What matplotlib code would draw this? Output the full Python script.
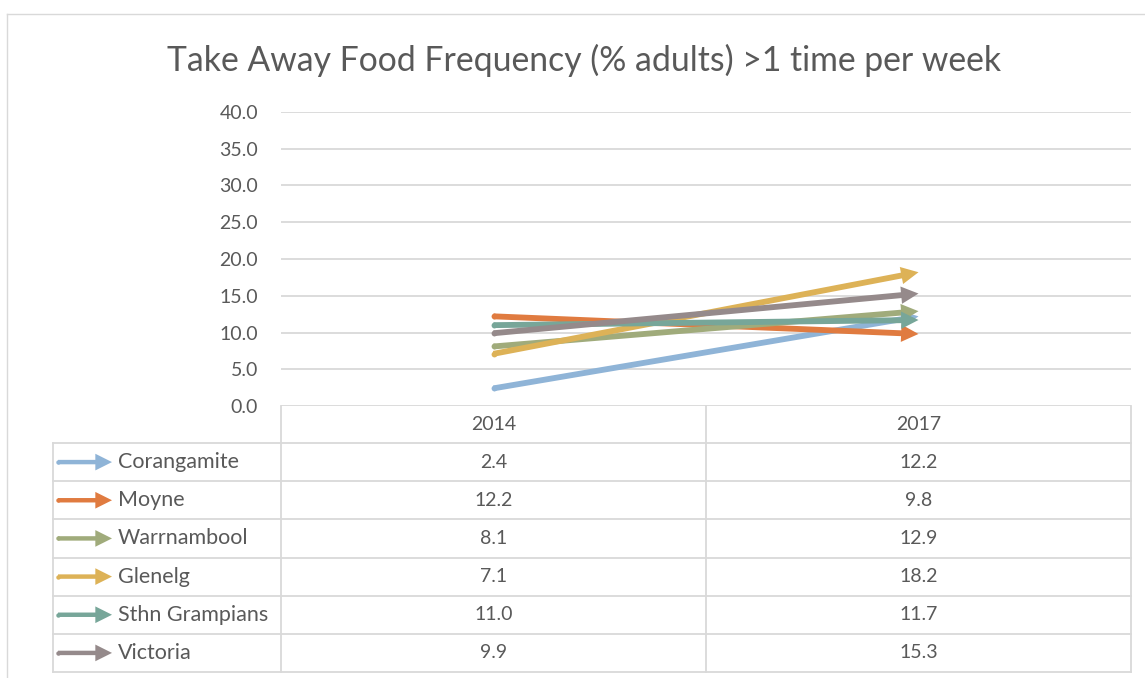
import matplotlib
matplotlib.use("Agg")
import matplotlib.pyplot as plt

plt.rcParams['font.family'] = ['Lato', 'DejaVu Sans']

# données : % d'adultes mangeant des plats à emporter plus d'une fois par semaine
annees = ["2014", "2017"]
regions = ["Corangamite", "Moyne", "Warrnambool", "Glenelg", "Sthn Grampians", "Victoria"]
valeurs_2014 = [2.4, 12.2, 8.1, 7.1, 11.0, 9.9]
valeurs_2017 = [12.2, 9.8, 12.9, 18.2, 11.7, 15.3]
couleurs = ["#8FB4D7", "#E07B40", "#A0AB7B", "#DDB257", "#77A699", "#958A8B"]
graduations = [0, 5, 10, 15, 20, 25, 30, 35, 40]

W, H = 1145, 678
GRIS = "#D9D9D9"
TEXTE = "#595959"

fig = plt.figure(figsize=(W / 100, H / 100), dpi=100)


def rect(x0, y0, x1, y1):
    # position en pixels (origine en haut à gauche) -> fraction de la figure
    return [x0 / W, 1 - y1 / H, (x1 - x0) / W, (y1 - y0) / H]


# calque de fond pour le cadre et le tableau
fond = fig.add_axes([0, 0, 1, 1])
fond.set_xlim(0, W)
fond.set_ylim(H, 0)
fond.axis("off")

fond.plot([7, 7], [14, H], color=GRIS, lw=1)
fond.plot([7, W], [14, 14], color=GRIS, lw=1)

# zone du graphique
ax = fig.add_axes(rect(281, 112, 1131, 406))
ax.set_xlim(-0.5, len(annees) - 0.5)
ax.set_ylim(0, 40)
ax.set_yticks(graduations)
ax.set_yticklabels([f"{v:.1f}" for v in graduations])
ax.set_xticks([])
ax.tick_params(axis="y", length=0, pad=16.5, labelsize=14, labelcolor=TEXTE)
for s in ax.spines.values():
    s.set_visible(False)
ax.grid(axis="y", color=GRIS, lw=1.3)
ax.set_axisbelow(True)
ax.patch.set_alpha(0)


def fleche(axe, x0, y0, x1, y1, couleur, queue=4.2, tete=12.5):
    axe.annotate("", xy=(x1, y1), xytext=(x0, y0),
                 arrowprops=dict(arrowstyle=f"simple,head_length={tete},head_width={tete},tail_width={queue}",
                                 mutation_scale=1, shrinkA=0, shrinkB=0,
                                 color=couleur, lw=0))
    axe.plot([x0], [y0], "o", ms=queue, color=couleur, mew=0)


for i, nom in enumerate(regions):
    fleche(ax, 0, valeurs_2014[i], 1, valeurs_2017[i], couleurs[i])

# tableau de données sous le graphique
x_gauche, x_legende, x_droite = 53, 281, 1131
x_milieu = (x_legende + x_droite) / 2
y_entete, y_haut, y_bas = 406, 443, 672
h_ligne = (y_bas - y_haut) / len(regions)

for x in (x_legende, x_milieu, x_droite):
    fond.plot([x, x], [y_entete, y_bas], color=GRIS, lw=1.3)
fond.plot([x_gauche, x_gauche], [y_haut, y_bas], color=GRIS, lw=1.3)
for k in range(len(regions) + 1):
    y = y_haut + k * h_ligne
    fond.plot([x_gauche, x_droite], [y, y], color=GRIS, lw=1.3)

centres = [(x_legende + x_milieu) / 2, (x_milieu + x_droite) / 2]
for j, annee in enumerate(annees):
    fond.text(centres[j], (y_entete + y_haut) / 2, annee, ha="center", va="center",
              fontsize=14, color=TEXTE)

for i, nom in enumerate(regions):
    yc = y_haut + (i + 0.5) * h_ligne
    fond.annotate("", xy=(112, yc), xytext=(58, yc),
                  arrowprops=dict(arrowstyle="simple,head_length=12,head_width=12,tail_width=3.2",
                                  mutation_scale=1, shrinkA=0, shrinkB=0,
                                  color=couleurs[i], lw=0))
    fond.plot([58], [yc], "o", ms=3.2, color=couleurs[i], mew=0)
    fond.text(118, yc, nom, ha="left", va="center", fontsize=15.5, color=TEXTE)
    for j, v in enumerate((valeurs_2014[i], valeurs_2017[i])):
        fond.text(centres[j], yc, f"{v:.1f}", ha="center", va="center",
                  fontsize=14, color=TEXTE)

fig.text(584 / W, 1 - 71 / H, "Take Away Food Frequency (% adults) >1 time per week",
         ha="center", va="baseline", fontsize=24.3, color=TEXTE)

fig.savefig("out.png", dpi=100)
